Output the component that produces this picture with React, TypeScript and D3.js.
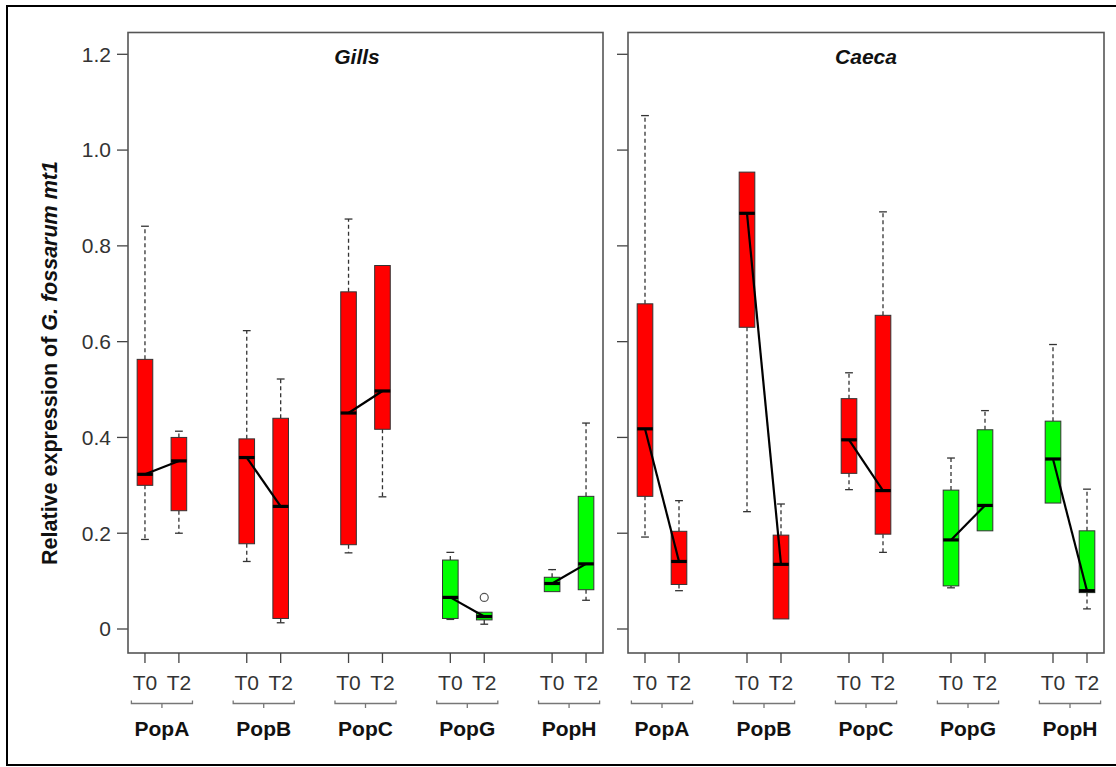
import React from "react";
import * as d3 from "d3";

const populations = ["PopA", "PopB", "PopC", "PopG", "PopH"];
const times = ["T0", "T2"];
const popColors = ["#ff0000", "#ff0000", "#ff0000", "#00ff00", "#00ff00"];
const tissues = ["Gills", "Caeca"];
const yTicks = [0, 0.2, 0.4, 0.6, 0.8, 1.0, 1.2];
const yTickLabels = ["0", "0.2", "0.4", "0.6", "0.8", "1.0", "1.2"];
const positions = [1, 2, 4, 5, 7, 8, 10, 11, 13, 14];

// [lower whisker, Q1, median, Q3, upper whisker], order: PopA T0, PopA T2, PopB T0, ...
const gillsStats = [
  [0.187, 0.300, 0.323, 0.563, 0.841],
  [0.200, 0.247, 0.351, 0.400, 0.413],
  [0.141, 0.178, 0.358, 0.397, 0.623],
  [0.013, 0.022, 0.256, 0.440, 0.522],
  [0.159, 0.176, 0.451, 0.704, 0.856],
  [0.276, 0.417, 0.497, 0.759, 0.759],
  [0.020, 0.022, 0.066, 0.144, 0.160],
  [0.010, 0.019, 0.026, 0.035, 0.035],
  [0.078, 0.078, 0.095, 0.108, 0.124],
  [0.060, 0.082, 0.136, 0.277, 0.430],
];
const gillsOutliers = [{ box: 7, value: 0.066 }];

const caecaStats = [
  [0.192, 0.277, 0.418, 0.679, 1.072],
  [0.080, 0.093, 0.141, 0.204, 0.268],
  [0.245, 0.630, 0.868, 0.954, 0.954],
  [0.021, 0.021, 0.135, 0.196, 0.261],
  [0.291, 0.325, 0.395, 0.481, 0.535],
  [0.160, 0.198, 0.289, 0.655, 0.871],
  [0.086, 0.090, 0.186, 0.290, 0.357],
  [0.205, 0.205, 0.258, 0.416, 0.456],
  [0.263, 0.263, 0.355, 0.434, 0.594],
  [0.042, 0.076, 0.080, 0.205, 0.292],
];
const caecaOutliers: { box: number; value: number }[] = [];

const panelStats = [gillsStats, caecaStats];
const panelOutliers = [gillsOutliers, caecaOutliers];

const W = 1116;
const H = 767;
const panelX = [
  [128, 603],
  [628, 1104],
];
const panelTop = 32.5;
const panelBottom = 653;
const FONT = "'Liberation Sans', Arial, sans-serif";

const y = d3.scaleLinear().domain([0, 1.2]).range([629, 54.3]);

function Panel({ idx }: { idx: number }) {
  const [x0, x1] = panelX[idx];
  const x = d3.scaleLinear().domain([0.5, 14.5]).range([x0, x1]);
  const stats = panelStats[idx];
  const outliers = panelOutliers[idx];
  const unit = x(2) - x(1);
  const bw = unit * 0.46;
  const cap = bw * 0.5;
  const titleX = idx === 0 ? 357 : (x0 + x1) / 2;

  return (
    <g>
      {yTicks.map((t, i) => (
        <g key={"yt" + i}>
          <line x1={x0 - 11} x2={x0} y1={y(t)} y2={y(t)} stroke="#444" strokeWidth={1.3} />
          {idx === 0 && (
            <text x={x0 - 17} y={y(t)} dy="0.35em" textAnchor="end" fontFamily={FONT} fontSize={21} fill="#333">
              {yTickLabels[i]}
            </text>
          )}
        </g>
      ))}
      <text x={titleX} y={64} textAnchor="middle" fontFamily={FONT} fontSize={21} fontWeight="bold" fontStyle="italic" fill="#111">
        {tissues[idx]}
      </text>
      {stats.map((s, i) => {
        const cx = x(positions[i]);
        const color = popColors[Math.floor(i / 2)];
        const [lo, q1, med, q3, hi] = s;
        return (
          <g key={"b" + i}>
            {hi > q3 && (
              <>
                <line x1={cx} x2={cx} y1={y(q3)} y2={y(hi)} stroke="#333" strokeWidth={1.3} strokeDasharray="4,3" />
                <line x1={cx - cap / 2} x2={cx + cap / 2} y1={y(hi)} y2={y(hi)} stroke="#333" strokeWidth={1.3} />
              </>
            )}
            {lo < q1 && (
              <>
                <line x1={cx} x2={cx} y1={y(q1)} y2={y(lo)} stroke="#333" strokeWidth={1.3} strokeDasharray="4,3" />
                <line x1={cx - cap / 2} x2={cx + cap / 2} y1={y(lo)} y2={y(lo)} stroke="#333" strokeWidth={1.3} />
              </>
            )}
            <rect x={cx - bw / 2} y={y(q3)} width={bw} height={Math.max(1, y(q1) - y(q3))} fill={color} stroke="#333" strokeWidth={1} />
            <line x1={cx - bw / 2} x2={cx + bw / 2} y1={y(med)} y2={y(med)} stroke="#000" strokeWidth={3.2} />
          </g>
        );
      })}
      {populations.map((p, j) => (
        <line
          key={"ml" + j}
          x1={x(positions[2 * j])}
          x2={x(positions[2 * j + 1])}
          y1={y(stats[2 * j][2])}
          y2={y(stats[2 * j + 1][2])}
          stroke="#000"
          strokeWidth={2.2}
        />
      ))}
      {outliers.map((o, k) => (
        <circle key={"o" + k} cx={x(positions[o.box])} cy={y(o.value)} r={4} fill="none" stroke="#555" strokeWidth={1.2} />
      ))}
      <rect x={x0} y={panelTop} width={x1 - x0} height={panelBottom - panelTop} fill="none" stroke="#555" strokeWidth={1.6} />
      {positions.map((p, i) => (
        <g key={"xt" + i}>
          <line x1={x(p)} x2={x(p)} y1={panelBottom} y2={panelBottom + 10} stroke="#444" strokeWidth={1.3} />
          <text x={x(p)} y={690} textAnchor="middle" fontFamily={FONT} fontSize={21} fill="#333">
            {times[i % 2]}
          </text>
        </g>
      ))}
      {populations.map((p, j) => {
        const c = (x(positions[2 * j]) + x(positions[2 * j + 1])) / 2;
        const half = unit * 0.9;
        return (
          <g key={"br" + j}>
            <path
              d={`M${c - half},700.5 L${c - half},703.5 L${c + half},703.5 L${c + half},700.5 M${c},703.5 L${c},708`}
              fill="none"
              stroke="#777"
              strokeWidth={1.3}
            />
            <text x={c} y={736} textAnchor="middle" fontFamily={FONT} fontSize={21} fontWeight="bold" fill="#111">
              {p}
            </text>
          </g>
        );
      })}
    </g>
  );
}

export default function App() {
  return (
    <svg width={W} height={H} style={{ position: "absolute", left: 0, top: 0, background: "#fff" }}>
      <rect x={0} y={0} width={W} height={H} fill="#fff" />
      <rect x={7} y={6} width={W + 20} height={759} fill="none" stroke="#000" strokeWidth={2} />
      <text
        transform={`translate(57,363) rotate(-90)`}
        textAnchor="middle"
        fontFamily={FONT}
        fontSize={21.5}
        fontWeight="bold"
        fill="#111"
      >
        Relative expression of <tspan fontStyle="italic">G. fossarum mt1</tspan>
      </text>
      <Panel idx={0} />
      <Panel idx={1} />
    </svg>
  );
}
